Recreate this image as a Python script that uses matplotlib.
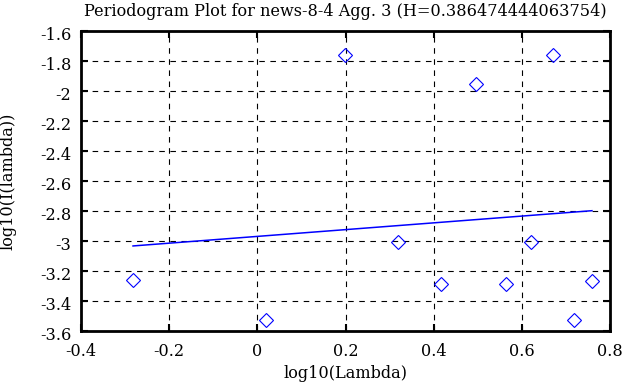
import numpy as np
from matplotlib import pyplot as plt
from matplotlib import transforms

# periodogram points (log10 lambda, log10 I(lambda))
log_lambda = [-0.282, 0.020, 0.198, 0.320, 0.417, 0.497, 0.563, 0.621, 0.671, 0.718, 0.759]
log_I = [-3.26, -3.527, -1.762, -3.004, -3.289, -1.953, -3.289, -3.004, -1.762, -3.527, -3.265]

# fitted line endpoints
fit_x = [-0.282, 0.759]
fit_y = [-3.033, -2.798]

xticks = [-0.4, -0.2, 0, 0.2, 0.4, 0.6, 0.8]
xticklabels = ['-0.4', '-0.2', '0', '0.2', '0.4', '0.6', '0.8']
yticks = [-1.6, -1.8, -2, -2.2, -2.4, -2.6, -2.8, -3, -3.2, -3.4, -3.6]
yticklabels = ['-1.6', '-1.8', '-2', '-2.2', '-2.4', '-2.6', '-2.8', '-3', '-3.2', '-3.4', '-3.6']

plt.rcParams['font.family'] = ['DejaVu Serif']
fs = 11.6

fig = plt.figure(figsize=(6.42, 3.87), dpi=100)
ax = fig.add_axes([81/642, 56/387, 529/642, 300/387])

ax.plot(log_lambda, log_I, linestyle='none', marker='D', ms=7.3,
        mfc='none', mec='#0000ff', mew=0.8)
ax.plot(fit_x, fit_y, color='#0000ff', lw=1.1)

ax.set_xlim(-0.4, 0.8)
ax.set_ylim(-3.6, -1.6)
ax.set_xticks(xticks)
ax.set_xticklabels(xticklabels)
ax.set_yticks(yticks)
ax.set_yticklabels(yticklabels)
ax.grid(True, color='black', linestyle=(0, (5, 5)), lw=0.8)
ax.tick_params(direction='in', length=5, width=1.5, top=True, right=True,
               labelsize=fs)
ax.tick_params(axis='x', pad=9)
ax.tick_params(axis='y', pad=7)
for s in ax.spines.values():
    s.set_linewidth(2)

# y tick labels sit a little below their ticks in the original
shift = transforms.ScaledTranslation(0, -3/100, fig.dpi_scale_trans)
for lab in ax.get_yticklabels():
    lab.set_transform(lab.get_transform() + shift)

ax.set_title('Periodogram Plot for news-8-4 Agg. 3 (H=0.386474444063754)', fontsize=fs, pad=11)
ax.set_xlabel('log10(Lambda)', fontsize=fs)
ax.set_ylabel('log10(I(lambda))', fontsize=fs)
ax.xaxis.set_label_coords(0.5, -0.115)
ax.yaxis.set_label_coords(-0.122, 0.5)

plt.savefig('out.png', dpi=100)
